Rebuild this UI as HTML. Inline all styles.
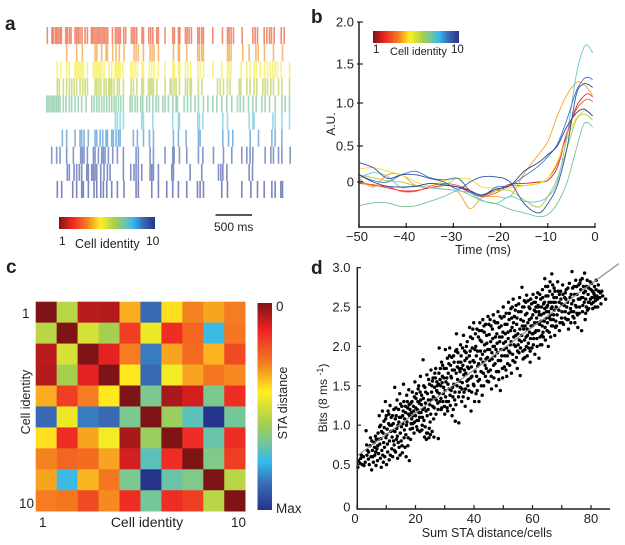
<!DOCTYPE html>
<html>
<head>
<meta charset="utf-8">
<style>
html,body{margin:0;padding:0;background:#fff;width:625px;height:545px;overflow:hidden}
svg{display:block}
text{font-family:"Liberation Sans",Arial,sans-serif;fill:#231f20;font-size:13px}
.l{font-weight:bold;font-size:19px}
</style>
</head>
<body>
<svg id="fig" width="625" height="545" viewBox="0 0 625 545" xmlns="http://www.w3.org/2000/svg">
<defs>
<linearGradient id="jetH" x1="0" x2="1" y1="0" y2="0">
<stop offset="0" stop-color="#7f1416"/><stop offset=".13" stop-color="#ed2224"/><stop offset=".3" stop-color="#f58220"/><stop offset=".43" stop-color="#fff01f"/><stop offset=".58" stop-color="#a6cf4f"/><stop offset=".68" stop-color="#70c6a0"/><stop offset=".77" stop-color="#35b8ee"/><stop offset=".87" stop-color="#3a6db5"/><stop offset="1" stop-color="#27348b"/>
</linearGradient>
<linearGradient id="jetV" x1="0" x2="0" y1="0" y2="1">
<stop offset="0" stop-color="#7f1416"/><stop offset=".13" stop-color="#ed2224"/><stop offset=".3" stop-color="#f58220"/><stop offset=".43" stop-color="#fff01f"/><stop offset=".58" stop-color="#a6cf4f"/><stop offset=".68" stop-color="#70c6a0"/><stop offset=".77" stop-color="#35b8ee"/><stop offset=".87" stop-color="#3a6db5"/><stop offset="1" stop-color="#27348b"/>
</linearGradient>
</defs>
<text class="l" x="5" y="30">a</text>
<text class="l" x="311" y="23">b</text>
<text class="l" x="6" y="273">c</text>
<text class="l" x="311" y="274">d</text>

<rect x="59" y="217" width="96" height="12" fill="url(#jetH)"/>
<text x="59" y="245" style="font-size:12px">1</text>
<text x="75" y="248" style="font-size:12.5px">Cell identity</text>
<text x="146" y="245" style="font-size:12px">10</text>
<line x1="215.5" x2="252" y1="215" y2="215" stroke="#231f20" stroke-width="1.5"/>
<text x="214" y="231" style="font-size:12px">500 ms</text>

<rect x="373" y="31" width="86" height="12" fill="url(#jetH)"/>
<text x="373" y="53" style="font-size:11.5px">1</text>
<text x="390" y="55" style="font-size:11px">Cell identity</text>
<text x="451" y="53" style="font-size:11.5px">10</text>
<text transform="translate(335,124) rotate(-90)" text-anchor="middle" style="font-size:12px">A.U.</text>
<text x="483" y="254" text-anchor="middle" style="font-size:12.5px">Time (ms)</text>

<rect x="257.5" y="303" width="14.5" height="207" fill="url(#jetV)"/>
<text x="276" y="311" style="font-size:13.5px">0</text>
<text x="276" y="513" style="font-size:13.5px">Max</text>
<text transform="translate(287,403) rotate(-90)" text-anchor="middle" style="font-size:12.5px">STA distance</text>
<text transform="translate(30,402) rotate(-90)" text-anchor="middle" style="font-size:12.5px">Cell identity</text>
<text x="22" y="318" style="font-size:13.5px">1</text>
<text x="19" y="508" style="font-size:13.5px">10</text>
<text x="39" y="527" style="font-size:13.5px">1</text>
<text x="147" y="527" text-anchor="middle" style="font-size:14px">Cell identity</text>
<text x="231" y="527" style="font-size:13.5px">10</text>

<text x="487" y="537" text-anchor="middle" style="font-size:12.5px">Sum STA distance/cells</text>
<text transform="translate(327,398) rotate(-90)" text-anchor="middle" style="font-size:12px">Bits (8 ms <tspan dy="-4" style="font-size:9px">-1</tspan><tspan dy="4">)</tspan></text>
</svg>
<script>
/* ---------- panel a : spike raster (times in ms) ---------- */
const rasterRow1 = [18,82,100,128,146,169,192,210,270,292,320,343,398,420,443,466,494,535,567,622,640,663,686,709,731,754,777,800,823,846,910,951,974,997,1019,1065,1092,1170,1193,1216,1243,1316,1335,1408,1435,1463,1518,1540,1631,1736,1759,1814,1833,1910,1933,1960,1992,2079,2102,2134,2157,2285,2417,2486,2509,2536,2568,2687,2833,2865,2897,2989,3025,3062,3089,3126,3222,3263];
const rasterRow2 = [283,420,498,672,695,763,823,841,914,960,1005,1069,1206,1234,1265,1334,1426,1453,1481,1540,1746,1814,1828,1928,2079,2102,2134,2157,2486,2509,2536,2696,2783,2875,2907,2993,3116,3240];
const rasterRow3 = [155,201,283,315,398,420,443,466,489,512,567,649,672,695,718,741,763,795,864,900,946,960,978,997,1015,1051,1161,1188,1220,1252,1316,1335,1417,1449,1481,1540,1631,1736,1759,1814,1833,1910,1942,1983,2079,2111,2157,2285,2408,2486,2509,2536,2673,2751,2796,2851,2879,2934,2993,3034,3071,3107,3139,3171,3222,3336];
const rasterRow4 = [155,183,238,283,320,352,384,420,466,503,535,567,672,695,722,750,795,823,859,878,900,932,978,1005,1060,1165,1197,1243,1312,1335,1403,1426,1449,1472,1518,1631,1700,1723,1755,1782,1828,1910,1938,1974,1992,2088,2134,2349,2385,2431,2486,2522,2646,2669,2751,2796,2851,2888,2970,3002,3034,3080,3116,3185,3231,3336];
const rasterRow5 = [9,32,55,78,100,123,146,169,192,238,274,320,352,398,443,489,548,626,658,695,727,763,795,832,868,900,932,960,992,1024,1060,1152,1179,1220,1252,1298,1325,1380,1417,1463,1508,1540,1600,1631,1677,1736,1782,1800,1892,1938,1983,2043,2088,2157,2217,2285,2340,2408,2477,2545,2623,2660,2705,2774,2833,2879,2957,3002,3062,3139,3231,3276,3336];
const rasterRow6 = [951,978,1015,1060,1312,1335,1463,1736,1814,1828,2079,2102,2148,2422,2486,2783,2833,2851,3107,3139,3231,3336];
const rasterRow7 = [224,283,398,466,489,521,580,672,695,741,777,823,841,900,923,960,992,1015,1197,1252,1335,1417,1472,1746,1814,1919,2088,2111,2422,2500,2559,2797,2911,3094,3139,3231];
const rasterRow8 = [78,146,192,283,375,475,498,521,567,649,672,718,763,786,809,855,914,978,1060,1234,1265,1426,1472,1631,1736,1755,1828,1928,2088,2148,2294,2431,2545,2682,2751,2796,2833,3002,3080,3116,3185,3231,3345];
const rasterRow9 = [292,320,384,420,457,489,558,580,626,649,672,695,750,795,841,878,1060,1161,1206,1234,1265,1312,1426,1449,1472,1540,1723,1746,1974,2134,2363,2395,2422,2477,2783,2829];
const rasterRow10 = [155,215,366,420,489,512,580,658,695,750,786,832,900,978,1069,1234,1265,1449,1540,1654,1736,1814,1928,2075,2111,2157,2408,2486,2682,2806,2897,2989,3094,3139,3217,3240];
const rasterRows = [rasterRow1,rasterRow2,rasterRow3,rasterRow4,rasterRow5,rasterRow6,rasterRow7,rasterRow8,rasterRow9,rasterRow10];
const cellColors = ["#e8481f","#f39020","#f7ea2c","#b0cb3c","#6fc092","#62c3dc","#3688cc","#3a58a8","#3549a3","#2b3a94"];

/* ---------- panel b : STA curves ---------- */
const staTimes = [-50,-47,-44,-41,-38,-35,-32,-29,-26.5,-24,-21,-18,-15,-12,-10,-8,-6,-4,-2.5,-1.5,-0.5];
const sta1 = [-0.02,-0.04,-0.08,-0.12,-0.12,-0.08,-0.05,-0.07,-0.14,-0.19,-0.12,-0.03,-0.02,0,0.02,0.2,0.62,0.95,1.08,1.12,1.08];
const sta2 = [0.02,-0.05,-0.06,-0.13,-0.13,-0.06,-0.02,-0.05,-0.12,-0.2,-0.15,-0.05,-0.05,-0.02,0.05,0.25,0.65,0.92,1.02,1.05,1.02];
const sta3 = [0.05,-0.07,0.1,0.1,-0.05,-0.08,-0.1,-0.14,-0.37,-0.22,-0.2,-0.2,0.12,0.38,0.55,0.85,1.1,1.26,1.25,1.18,1.1];
const sta4 = [0.18,0.2,0.15,0.1,0,-0.05,0.02,0.05,0.04,-0.07,-0.08,-0.08,-0.05,-0.02,0.05,0.28,0.58,0.82,0.9,0.9,0.85];
const sta5 = [0.1,0.06,0.02,0,-0.05,-0.08,-0.05,0.05,-0.12,-0.18,-0.12,-0.12,-0.25,-0.35,-0.2,0.05,0.45,0.8,0.87,0.85,0.8];
const sta6 = [-0.33,-0.29,-0.29,-0.34,-0.33,-0.27,-0.2,-0.12,-0.18,-0.26,-0.3,-0.38,-0.43,-0.48,-0.45,-0.3,-0.02,0.45,0.74,0.77,0.72];
const sta7 = [0.05,0.13,0.08,-0.08,-0.05,-0.08,-0.1,-0.12,-0.15,-0.25,-0.3,-0.2,-0.27,-0.27,-0.2,0,0.6,1.35,1.68,1.72,1.63];
const sta8 = [0.1,0.02,0,0.1,0.15,0.06,0.03,0.05,-0.12,-0.2,-0.07,-0.05,0.08,0.22,0.35,0.52,0.8,1.15,1.3,1.33,1.3];
const sta9 = [0.27,0.2,0.05,0.1,0.1,0.05,0,-0.1,0,0.07,0.07,0,-0.3,-0.43,-0.3,-0.05,0.45,1.1,1.24,1.24,1.2];
const sta10 = [0.1,0,-0.06,-0.07,-0.06,-0.02,-0.04,-0.07,-0.12,-0.18,-0.1,-0.05,0.15,0.27,0.38,0.5,0.72,0.88,0.93,0.9,0.85];
const staSeries = [sta1,sta2,sta3,sta4,sta5,sta6,sta7,sta8,sta9,sta10];
const staColors = ["#d7262b","#f15a29","#f9a11b","#f4e01f","#a8cf45","#7cc48f","#63c5da","#3f78c0","#3450a2","#2e3a8f"];
const staXTicks = [-50,-40,-30,-20,-10,0];
const staXTickLabels = ["\u221250","\u221240","\u221230","\u221220","\u221210","0"];
const staYTicks = [0,0.5,1,1.5,2];
const staYTickLabels = ["0","0.5","1.0","1.5","2.0"];

/* ---------- panel c : distance matrix (0 = identical, 1 = max) ---------- */
const distanceRow1 = [0,.55,.07,.06,.35,.88,.41,.3,.34,.29];
const distanceRow2 = [.55,0,.5,.58,.18,.46,.15,.25,.76,.28];
const distanceRow3 = [.07,.5,0,.12,.29,.85,.34,.26,.36,.2];
const distanceRow4 = [.06,.58,.12,0,.42,.88,.45,.34,.28,.31];
const distanceRow5 = [.35,.18,.29,.42,0,.66,.05,.1,.66,.15];
const distanceRow6 = [.88,.46,.85,.88,.66,0,.6,.71,1,.67];
const distanceRow7 = [.41,.15,.34,.45,.05,.6,0,.15,.69,.15];
const distanceRow8 = [.3,.25,.26,.34,.1,.71,.15,0,.65,.18];
const distanceRow9 = [.34,.76,.36,.28,.66,1,.69,.65,0,.55];
const distanceRow10 = [.29,.28,.2,.31,.15,.67,.15,.18,.55,0];
const distanceMatrix = [distanceRow1,distanceRow2,distanceRow3,distanceRow4,distanceRow5,distanceRow6,distanceRow7,distanceRow8,distanceRow9,distanceRow10];
const colorStops = [0,.13,.3,.43,.58,.68,.77,.87,1];
const colorValues = ["#7f1416","#ed2224","#f58220","#fff01f","#a6cf4f","#70c6a0","#35b8ee","#3a6db5","#27348b"];

/* ---------- panel d : scatter ---------- */
const scatterXTicks = [0,10,20,30,40,50,60,70,80];
const scatterXTickLabels = ["0","","20","","40","","60","","80"];
const scatterYTicks = [0,0.5,1,1.5,2,2.5,3];
const scatterYTickLabels = ["0","0.5","1.0","1.5","2.0","2.5","3.0"];
const fitX = [0,89.5];
const fitY = [0.61,3.05];
const scatterPoints = [
[0.3,.47],[0.5,.55],[1,.52],[1.3,.58],[1.8,.5],[2.4,.49],[2.8,.53],[3.1,.93],[3.4,.62],[3.6,.68],[3.9,.57],[4.2,.5],[4.5,.74],[4.8,.6],[5,.44],[5.1,.8],[5.3,.68],[5.6,.53],[5.9,.78],[6.1,.62],[6.3,.86],[6.5,.49],[6.8,.7],[7,.55],[7.2,.9],[7.4,.64],[7.6,1.12],[7.8,.76],[8,.58],[8.1,1.0],[8.3,.47],[8.5,.68],[8.7,1.18],[8.9,.9],[9,.53],[9.2,1.05],[9.4,.72],[9.5,.6],[9.7,1.3],[9.9,.84],[10,1.12],[10.1,.5],[10.3,.95],[10.5,.66],[10.6,1.18],[10.8,1.02],[11,.56],[11.1,.8],[11.3,1.25],[11.5,.92],[11.7,1.1],[11.9,.7],[12,.85],[12.2,.6],[12.4,1.02],[12.6,1.2],[12.7,.75],[12.9,1.48],[13,.92],[13.2,.66],[13.4,1.12],[13.5,.82],[13.7,1.32],[13.9,.58],[14,1.0],[14.2,1.2],[14.4,.72],[14.6,1.4],[14.8,.9],[15,1.1],[15.1,.8],[15.3,1.24],[15.5,.65],[15.7,1.02],[15.9,1.52],[16,1.3],[16.2,.94],[16.4,.72],[16.6,1.16],[16.8,.6],[17,1.38],[17.1,1.04],[17.3,1.22],[17.5,.84],[17.7,1.45],[17.9,.55],[18,1.12],[18.2,.95],[18.4,1.28],[18.6,1.16],[18.9,1.42],[19.1,1.02],[19.3,1.24],[19.5,.9],[19.8,1.55],[20,1.12],[20.2,1.34],[20.4,.98],[20.6,1.2],[20.9,1.46],[21,1.06],[21.3,1.28],[21.5,.92],[21.7,1.62],[21.9,1.16],[22.1,1.38],[22.3,1.0],[22.6,1.83],[22.8,1.5],[23,1.22],[23.1,.85],[23.3,.98],[23.5,1.42],[23.7,.82],[23.9,1.64],[24,1.12],[24.2,.9],[24.4,1.32],[24.6,.84],[24.8,1.52],[25,1.04],[25.1,.88],[25.3,1.7],[25.5,1.42],[25.7,.92],[25.9,1.24],[26,1.6],[26.3,.85],[26.5,1.48],[26.7,1.34],[26.9,1.72],[27,1.14],[27.3,1.55],[27.5,1.42],[27.8,.83],[28,1.66],[28.1,1.98],[28.3,1.3],[28.6,1.5],[28.9,1.8],[29,1.22],[29.2,1.62],[29.5,1.4],[29.8,1.72],[30,1.14],[30.2,1.96],[30.4,1.55],[30.6,1.3],[30.9,1.85],[31,1.18],[31.2,1.66],[31.5,1.46],[31.7,1.98],[31.9,1.25],[32,1.76],[32.3,1.6],[32.5,1.12],[32.8,1.36],[33,1.88],[33.1,1.52],[33.3,1.7],[33.6,1.05],[33.8,1.26],[34,2.16],[34.1,1.96],[34.4,1.58],[34.6,1.8],[34.8,1.03],[35,1.42],[35.2,1.68],[35.4,2.02],[35.6,1.88],[35.8,1.3],[36,1.54],[36.2,1.76],[36.4,2.14],[36.6,1.42],[36.8,1.94],[37,1.24],[37.2,1.66],[37.5,1.85],[37.7,2.06],[37.9,1.5],[38,1.34],[38.2,1.72],[38.5,2.24],[38.7,1.94],[38.9,1.6],[39,1.18],[39.2,1.42],[39.5,2.1],[39.7,1.82],[39.9,2.3],[40,1.5],[40.2,1.3],[40.4,1.68],[40.6,2.0],[40.8,1.88],[41,2.22],[41.1,1.44],[41.3,1.75],[41.5,2.12],[41.7,1.3],[41.9,1.58],[42,2.3],[42.2,1.94],[42.4,1.68],[42.6,2.06],[42.8,1.38],[43,2.34],[43.1,1.8],[43.3,1.5],[43.5,2.18],[43.7,1.94],[43.9,1.62],[44,2.28],[44.2,1.72],[44.4,2.04],[44.6,1.86],[44.8,2.38],[45,1.55],[45.2,2.15],[45.4,1.96],[45.6,1.7],[45.8,2.26],[46,1.46],[46.2,1.84],[46.4,2.1],[46.6,2.4],[46.8,1.6],[47,2.0],[47.2,1.78],[47.4,2.3],[47.6,1.5],[47.8,2.16],[48,1.92],[48.2,2.44],[48.4,1.68],[48.6,2.24],[48.8,2.06],[49,1.44],[49.1,1.82],[49.4,2.36],[49.6,2.12],[49.8,1.6],[50,2.5],[50.2,1.96],[50.4,1.74],[50.6,2.28],[50.8,2.06],[51,2.42],[51.2,1.62],[51.4,1.88],[51.6,2.18],[51.8,2.56],[52,2.34],[52.2,1.76],[52.4,2.02],[52.6,2.48],[52.8,1.66],[53,2.24],[53.2,1.9],[53.4,2.6],[53.6,2.12],[53.8,2.38],[54,1.8],[54.2,2.0],[54.4,2.52],[54.6,2.28],[54.8,1.72],[55,2.16],[55.2,2.44],[55.4,1.92],[55.6,2.62],[55.8,1.63],[56,2.34],[56.2,2.06],[56.4,2.75],[56.6,2.5],[56.8,1.84],[57,2.22],[57.2,2.58],[57.4,1.96],[57.6,2.4],[57.8,2.12],[58,2.65],[58.2,1.88],[58.4,2.3],[58.6,2.04],[58.8,2.5],[59,2.18],[59.2,1.8],[59.4,2.6],[59.6,2.36],[59.8,1.98],[60,2.26],[60.2,2.66],[60.4,2.1],[60.6,2.46],[60.8,1.9],[61,2.56],[61.2,2.2],[61.4,2.36],[61.6,2.0],[61.8,2.68],[62,2.5],[62.2,1.85],[62.4,2.28],[62.6,2.12],[62.8,2.6],[63,2.4],[63.2,2.02],[63.4,2.72],[63.6,2.18],[63.8,2.54],[64,2.32],[64.2,2.86],[64.4,2.08],[64.6,2.64],[64.8,2.44],[65,2.2],[65.2,2.76],[65.4,2.0],[65.6,2.56],[65.8,2.36],[66,2.82],[66.2,2.12],[66.4,2.48],[66.6,2.92],[66.8,2.66],[67,2.26],[67.2,2.4],[67.4,2.74],[67.6,2.14],[67.8,2.56],[68,2.32],[68.2,2.62],[68.6,2.82],[69,2.46],[69.2,2.2],[69.6,2.7],[69.9,2.36],[70,2.54],[70.3,2.78],[70.6,2.28],[71,2.62],[71.2,2.44],[71.5,2.72],[71.8,2.34],[72,2.56],[72.3,2.22],[72.6,2.8],[73,2.48],[73.2,2.66],[73.5,2.95],[73.8,2.38],[74,2.58],[74.2,2.76],[74.5,2.3],[74.8,2.84],[75,2.5],[75.2,2.66],[75.5,2.24],[75.8,2.78],[76,2.42],[76.2,2.6],[76.5,2.72],[76.8,2.2],[77,2.86],[77.2,2.52],[77.5,2.68],[77.8,2.93],[78,2.34],[78.2,2.6],[78.5,2.76],[78.8,2.46],[79,2.66],[79.4,2.56],[79.7,2.82],[80,2.72],[80.3,2.62],[80.6,2.48],[80.9,2.68],[81.2,2.76],[81.5,2.58],[81.8,2.84],[82,2.64],[82.3,2.5],[82.6,2.7],[83,2.62],[83.4,2.54],[83.7,2.7],[84,2.64],[85,2.6]
];
const scatterPointsDense = [
[1.5,.62],[2.2,.6],[3.3,.75],[4,.66],[4.6,.84],[5.4,.6],[6,.72],[6.6,.82],[7.1,.74],[7.7,.98],[8.2,.83],[8.8,.62],[9.3,.97],[9.8,1.08],[10.4,.76],[10.9,1.14],[11.4,.62],[11.8,1.0],[12.3,.93],[12.8,.68],[13.1,1.08],[13.6,.96],[14.1,.78],[14.5,1.1],[14.9,1.27],[15.4,.74],[15.8,1.18],[16.3,1.08],[16.7,.88],[17.2,1.3],[17.6,1.14],[18.1,1.2],[18.5,1.02],[18.8,1.3],[19.2,1.12],[19.6,1.36],[20.1,1.22],[20.5,1.06],[20.8,1.3],[21.2,1.16],[21.6,1.42],[22,1.26],[22.4,1.1],[22.7,1.34],[23.2,1.48],[23.6,1.18],[24.1,1.4],[24.5,1.58],[24.9,1.26],[25.2,1.14],[25.6,1.5],[26.1,1.36],[26.4,1.22],[26.8,1.6],[27.2,1.44],[27.6,1.28],[27.9,1.52],[28.2,1.4],[28.5,1.72],[28.8,1.2],[29.1,1.54],[29.4,1.3],[29.7,1.6],[30.1,1.44],[30.5,1.72],[30.8,1.22],[31.1,1.52],[31.4,1.78],[31.8,1.38],[32.1,1.62],[32.4,1.86],[32.7,1.48],[32.9,1.2],[33.2,1.8],[33.5,1.42],[33.9,1.66],[34.2,1.5],[34.5,1.92],[34.9,1.72],[35.1,1.56],[35.5,1.8],[35.9,1.46],[36.1,1.98],[36.5,1.64],[36.9,1.82],[37.1,1.46],[37.4,2.0],[37.8,1.74],[38.1,1.58],[38.4,1.88],[38.8,2.12],[39.1,1.74],[39.4,1.98],[39.8,1.52],[40.1,1.8],[40.5,2.16],[40.9,1.62],[41.2,1.94],[41.6,1.78],[42.1,2.08],[42.3,1.84],[42.7,2.2],[43.2,1.66],[43.6,2.02],[44.1,1.84],[44.3,2.14],[44.7,1.96],[44.9,1.68],[45.1,2.28],[45.3,1.82],[45.7,2.06],[46.1,1.92],[46.3,2.22],[46.7,1.76],[46.9,2.32],[47.1,1.88],[47.3,2.12],[47.7,1.68],[47.9,2.04],[48.1,2.3],[48.3,1.82],[48.7,2.12],[49.2,1.96],[49.3,2.26],[49.7,1.72],[50.1,2.04],[50.3,2.38],[50.5,1.88],[50.7,2.16],[51.1,1.98],[51.3,2.28],[51.5,1.78],[51.7,2.1],[52.1,2.42],[52.3,1.92],[52.5,2.2],[52.7,2.06],[53.1,2.5],[53.3,1.82],[53.5,2.3],[53.7,2.02],[54.1,2.46],[54.3,2.14],[54.5,1.86],[54.7,2.36],[55.1,2.02],[55.3,2.54],[55.7,2.22],[55.9,1.98],[56.1,2.44],[56.3,2.14],[56.7,1.94],[56.9,2.32],[57.1,2.5],[57.3,2.08],[57.5,2.26],[57.7,2.56],[57.9,2.0],[58.1,2.42],[58.3,2.14],[58.5,2.58],[58.7,1.98],[58.9,2.34],[59.1,2.48],[59.3,2.1],[59.5,2.26],[59.7,2.54],[59.9,2.16],[60.1,2.4],[60.3,2.02],[60.5,2.56],[60.7,2.3],[60.9,2.18],[61.1,2.44],[61.3,2.62],[61.5,2.1],[61.7,2.3],[61.9,2.52],[62.1,2.2],[62.3,2.4],[62.5,2.66],[62.7,2.02],[62.9,2.32],[63.1,2.5],[63.3,2.26],[63.5,2.62],[63.7,2.12],[63.9,2.42],[64.1,2.56],[64.3,2.24],[64.5,2.76],[64.7,2.36],[64.9,2.5],[65.1,2.3],[65.3,2.64],[65.5,2.44],[65.7,2.18],[65.9,2.7],[66.1,2.4],[66.3,2.56],[66.5,2.26],[66.7,2.5],[66.9,2.78],[67.1,2.34],[67.3,2.62],[67.5,2.46],[67.7,2.7],[67.9,2.24],[68.1,2.5],[68.4,2.4],[68.8,2.7],[69.1,2.56],[69.4,2.3],[69.7,2.6],[70.1,2.44],[70.4,2.66],[70.8,2.52],[71.1,2.36],[71.4,2.6],[71.7,2.5],[72.1,2.74],[72.4,2.42],[72.8,2.62],[73.1,2.3],[73.4,2.54],[73.7,2.74],[74.1,2.44],[74.4,2.66],[74.7,2.52],[75.1,2.76],[75.4,2.4],[75.7,2.6],[76.1,2.5],[76.4,2.84],[76.7,2.62],[77.1,2.44],[77.4,2.76],[77.7,2.56],[78.1,2.7],[78.4,2.5],[78.7,2.84],[79.1,2.56],[79.3,2.74],[79.8,2.6],[80.2,2.8],[80.5,2.7],[80.8,2.56],[81.1,2.66],[81.4,2.5],[81.7,2.72],[82.2,2.6],[82.5,2.78],[83.2,2.68],
[6.4,.66],[7.3,.82],[8.4,.92],[9.1,.78],[10.2,.88],[11.2,1.0],[12.1,1.12],[12.5,.8],[13.3,1.22],[13.8,.86],[14.3,1.04],[14.7,.62],[15.2,.98],[15.6,1.12],[16.1,.84],[16.5,1.24],[16.9,1.0],[17.4,.74],[17.8,1.26],[18.3,.82],[18.7,1.08],[19,.96],[19.4,1.18],[19.7,1.04],[20.3,1.4],[20.7,.94],[21.1,1.5],[21.4,1.1],[21.8,1.32],[22.2,.94],[22.5,1.2],[22.9,1.06],[23.4,1.28],[23.8,.9],[24.3,1.2],[24.7,.96],[25.4,1.32],[25.8,1.56],[26.2,1.08],[26.6,1.66],[27.1,1.32],[27.4,1.5],[27.7,1.2],[28.4,1.58],[28.7,1.34],[29.3,1.76],[29.6,1.48],[29.9,1.24],[30.3,1.36],[30.7,1.6],[31.3,1.3],[31.6,1.88],[32.2,1.44],[32.6,1.7],[33.4,1.32],[33.7,1.94],[34.3,1.74],[34.7,1.36],[35.3,1.48],[35.7,1.72],[36.3,1.36],[36.7,1.7],[37.3,1.92],[37.6,1.56],[38.3,1.44],[38.6,1.8],[39.3,1.62],[39.6,2.22],[40.3,1.96],[40.7,1.4],[41.4,1.56],[41.8,2.2],[42.5,1.5],[42.9,1.9],[43.4,2.26],[43.8,1.76],[44.5,1.56],[45.5,2.34],[45.9,1.62],[46.5,2.0],[47.5,1.96],[48.5,1.58],[48.9,2.38],[49.5,1.88],[49.9,2.18],[50.9,1.7],[51.9,1.94],[52.9,2.36],[53.9,2.2],[54.9,1.94],[55.5,2.08],[56.5,2.26],[57.4,1.86],[58.2,2.22],[59.2,1.94],[60.2,2.16],[61.2,2.5],[62.2,2.44],[63.2,2.14],[64.2,2.48],[65.2,2.52],[66.2,2.34],[67.2,2.56],[68.2,2.26],[69.2,2.66],[70.2,2.3],[71.2,2.68],[72.2,2.34],[73.2,2.44],[74.2,2.36],[75.2,2.42],[76.2,2.8],[77.2,2.62],[78.2,2.42],[79.2,2.48],[80.2,2.54],[81.2,2.62]
];

/* ---------- axis functions ---------- */
const rasterTop = 27, rasterRowH = 17.1;
function rasterX(ms){ return 46 + ms * 0.073; }
function lerpScale(domain, range, v){
  let i = 0;
  while (i < domain.length - 2 && v > domain[i + 1]) i++;
  return range[i] + (v - domain[i]) * (range[i + 1] - range[i]) / (domain[i + 1] - domain[i]);
}
function staX(t){ return 595 + t * 4.72; }
function staY(v){ return lerpScale([0,0.5,1,1.5,2],[182,146,103,64,22],v); }
function scatX(v){ return 357 + v * 2.925; }
function scatY(v){ return lerpScale([0,0.5,3],[509,464.6,267.6],v); }
function distColor(v){
  let i = 0;
  while (i < colorStops.length - 2 && v > colorStops[i + 1]) i++;
  const f = (v - colorStops[i]) / (colorStops[i + 1] - colorStops[i]);
  const a = colorValues[i], b = colorValues[i + 1];
  const parts = [1,3,5].map(function(p){
    const ca = parseInt(a.substr(p,2),16), cb = parseInt(b.substr(p,2),16);
    return Math.round(ca + (cb - ca) * f);
  });
  return "rgb(" + parts.join(",") + ")";
}
const svg = document.getElementById("fig");
const NS = "http://www.w3.org/2000/svg";
function make(tag, attrs, parent){
  const el = document.createElementNS(NS, tag);
  for (const k in attrs) el.setAttribute(k, attrs[k]);
  (parent || svg).appendChild(el);
  return el;
}
function smoothPath(px, py){
  let d = "M" + px[0].toFixed(2) + " " + py[0].toFixed(2);
  for (let i = 0; i < px.length - 1; i++){
    const p0 = Math.max(i - 1, 0), p3 = Math.min(i + 2, px.length - 1);
    const c1x = px[i] + (px[i + 1] - px[p0]) / 6, c1y = py[i] + (py[i + 1] - py[p0]) / 6;
    const c2x = px[i + 1] - (px[p3] - px[i]) / 6, c2y = py[i + 1] - (py[p3] - py[i]) / 6;
    d += "C" + c1x.toFixed(2) + " " + c1y.toFixed(2) + " " + c2x.toFixed(2) + " " + c2y.toFixed(2) + " " + px[i + 1].toFixed(2) + " " + py[i + 1].toFixed(2);
  }
  return d;
}

/* raster */
rasterRows.forEach(function(row, r){
  const g = make("g", {stroke: cellColors[r], "stroke-width": 1.6, "stroke-opacity": 0.62});
  
  
  row.forEach(function(ms){
    const s = make("line", {x1: rasterX(ms), x2: rasterX(ms), y1: rasterTop + r * rasterRowH, y2: rasterTop + (r + 1) * rasterRowH}, g);
    
    
  });
});

/* STA lines */
staSeries.forEach(function(series, s){
  const p = make("path", {d: smoothPath(staTimes.map(staX), series.map(staY)), fill: "none", stroke: staColors[s], "stroke-width": 0.9});
  
  
});

/* STA axes */
const staAxisY = make("line", {x1: 359, x2: 359, y1: 22, y2: 227, stroke: "#231f20", "stroke-width": 1.5});


const staAxisX = make("line", {x1: 358.3, x2: 595.5, y1: 227, y2: 227, stroke: "#231f20", "stroke-width": 1.5});


staYTicks.forEach(function(v, i){
  const tick = make("line", {x1: 357, x2: 363, y1: staY(v), y2: staY(v), stroke: "#231f20", "stroke-width": 1.2});
  
  
  const lab = make("text", {x: 354, y: staY(v) + 4.5, "text-anchor": "end"});
  lab.textContent = staYTickLabels[i];
  
  
});
staXTicks.forEach(function(v, i){
  const tick = make("line", {x1: staX(v), x2: staX(v), y1: 223, y2: 228, stroke: "#231f20", "stroke-width": 1.2});
  
  
  const lab = make("text", {x: staX(v) - (v < 0 ? 2 : 0), y: 241, "text-anchor": "middle"});
  lab.textContent = staXTickLabels[i];
  
  
});

/* heatmap */
const hmX = 35.7, hmY = 301.7, hmCell = 20.95;
distanceMatrix.forEach(function(row, r){
  row.forEach(function(v, c){
    const cell = make("rect", {x: hmX + c * hmCell, y: hmY + r * hmCell, width: hmCell + 0.3, height: hmCell + 0.3, fill: distColor(v)});
    
    
  });
});

/* scatter */
scatterPoints.concat(scatterPointsDense).forEach(function(pt){
  const dot = make("circle", {cx: scatX(pt[0]), cy: scatY(pt[1]), r: 1.7, fill: "#000"});
  
  
});
const fitLine = make("line", {x1: scatX(fitX[0]), x2: scatX(fitX[1]), y1: scatY(fitY[0]), y2: scatY(fitY[1]), stroke: "#8c8c8c", "stroke-width": 1.2});


const scatAxisY = make("line", {x1: 357.3, x2: 357.3, y1: 267, y2: 509.7, stroke: "#231f20", "stroke-width": 1.5});


const scatAxisX = make("line", {x1: 357, x2: 610, y1: 509, y2: 509, stroke: "#231f20", "stroke-width": 1.5});


scatterXTicks.forEach(function(v, i){
  const tick = make("line", {x1: scatX(v), x2: scatX(v), y1: 505, y2: 509, stroke: "#231f20", "stroke-width": 1.2});
  
  
  if (scatterXTickLabels[i]) {
    const lab = make("text", {x: scatX(v) - (v === 0 ? 2 : 0), y: 523, "text-anchor": "middle"});
    lab.textContent = scatterXTickLabels[i];
    
    
  }
});
scatterYTicks.forEach(function(v, i){
  const tick = make("line", {x1: 357, x2: 361, y1: scatY(v), y2: scatY(v), stroke: "#231f20", "stroke-width": 1.2});
  
  
  const lab = make("text", {x: 350.5, y: scatY(v) + 4.5 - (v === 0 ? 2 : 0), "text-anchor": "end"});
  lab.textContent = scatterYTickLabels[i];
  
  
});
</script>
</body>
</html>
